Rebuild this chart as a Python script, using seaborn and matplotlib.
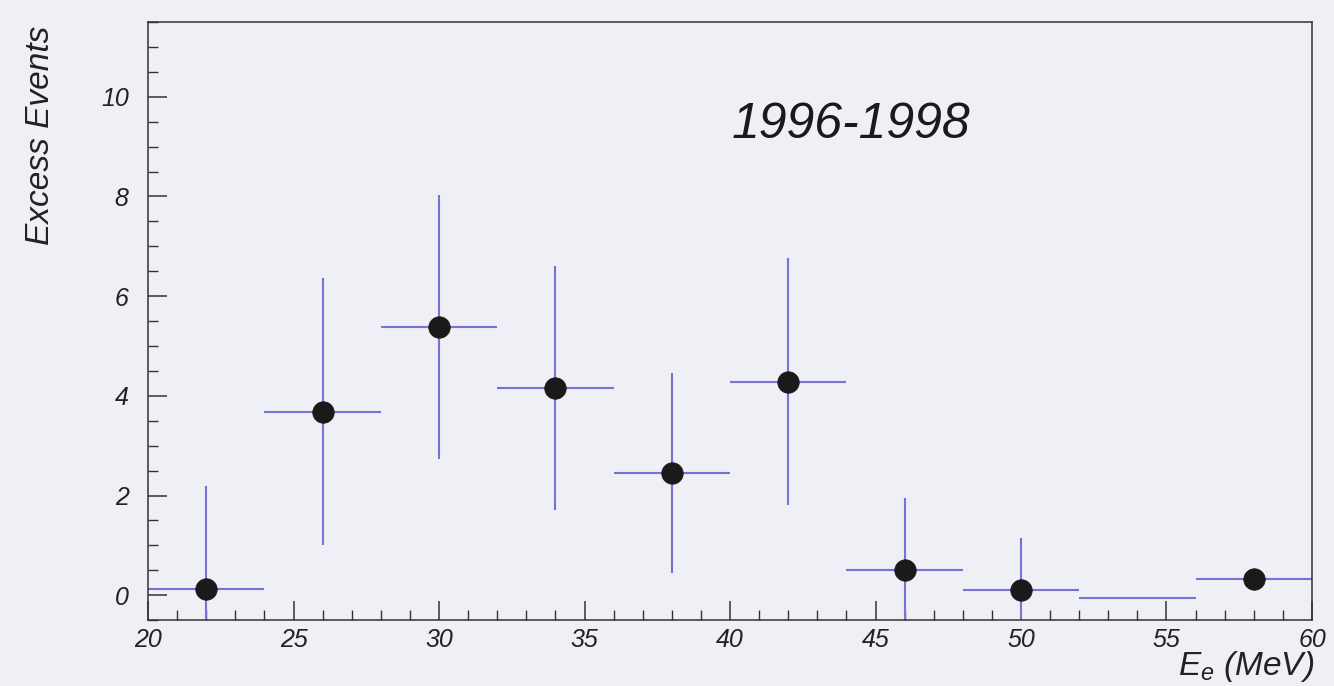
import matplotlib
matplotlib.use("Agg")
import matplotlib.pyplot as plt
import seaborn as sns
import numpy as np
import pandas as pd
from matplotlib.ticker import MultipleLocator

# ---- data ----
energy = [22, 26, 30, 34, 38, 42, 46, 50, 54, 58]          # bin centres (MeV)
bin_halfwidth = [2, 2, 2, 2, 2, 2, 2, 2, 2, 2]
excess = [0.12, 3.68, 5.38, 4.15, 2.45, 4.28, 0.50, 0.10, -0.05, 0.32]
excess_err = [2.08, 2.68, 2.65, 2.45, 2.00, 2.48, 1.45, 1.05, 0.0, 0.15]
show_marker = [True, True, True, True, True, True, True, True, False, True]
x_ticks = [20, 25, 30, 35, 40, 45, 50, 55, 60]
y_ticks = [0, 2, 4, 6, 8, 10]
title_text = "1996-1998"

sns.set_theme(style="white")
bg = "#efeff6"
plt.rcParams["font.family"] = ["Liberation Sans", "DejaVu Sans"]
plt.rcParams["mathtext.fontset"] = "custom"
plt.rcParams["mathtext.it"] = "Liberation Sans:italic"
plt.rcParams["mathtext.rm"] = "Liberation Sans:italic"

fig = plt.figure(figsize=(13.34, 6.86), dpi=100, facecolor=bg)
ax = fig.add_axes([0.111, 0.096, 0.8725, 0.872])
ax.set_facecolor(bg)

df = pd.DataFrame({"E": energy, "y": excess, "yerr": excess_err,
                   "xerr": bin_halfwidth, "mk": show_marker})

ax.errorbar(df["E"], df["y"], xerr=df["xerr"], yerr=df["yerr"], fmt="none",
            ecolor="#7a70d8", elinewidth=1.5, capsize=0, zorder=2)
sns.scatterplot(data=df[df["mk"]], x="E", y="y", ax=ax, s=240,
                color="#1a1a1a", edgecolor="#1a1a1a", linewidth=0.5,
                zorder=3, legend=False)

ax.set_xlim(20, 60)
ax.set_ylim(-0.5, 11.5)
ax.set_xticks(x_ticks)
ax.set_yticks(y_ticks)
ax.xaxis.set_minor_locator(MultipleLocator(1))
ax.yaxis.set_minor_locator(MultipleLocator(0.5))
ax.tick_params(axis="both", which="major", direction="in", length=14,
               width=1.1, color="#333333", labelsize=18, labelcolor="#222222")
ax.tick_params(axis="both", which="minor", direction="in", length=7,
               width=1.0, color="#333333")
ax.tick_params(axis="x", which="both", bottom=True, top=False, pad=6)
ax.tick_params(axis="y", which="both", left=True, right=False, pad=14)
for lab in ax.get_xticklabels() + ax.get_yticklabels():
    lab.set_style("italic")
for s in ax.spines.values():
    s.set_color("#333333")
    s.set_linewidth(1.1)

ax.set_xlabel("")
ax.set_ylabel("")
fig.text(0.030, 0.962, "Excess Events", rotation=90, ha="center", va="top",
         fontsize=24, style="italic", color="#222222")
fig.text(0.985, 0.028, r"$E_e\ (MeV)$", ha="right", va="center",
         fontsize=24, color="#222222")
ax.text(0.638, 0.818, title_text, transform=fig.transFigure, ha="center",
        va="center", fontsize=36, style="italic", color="#1a1a1a")

fig.savefig("out.png", dpi=100, facecolor=bg)
